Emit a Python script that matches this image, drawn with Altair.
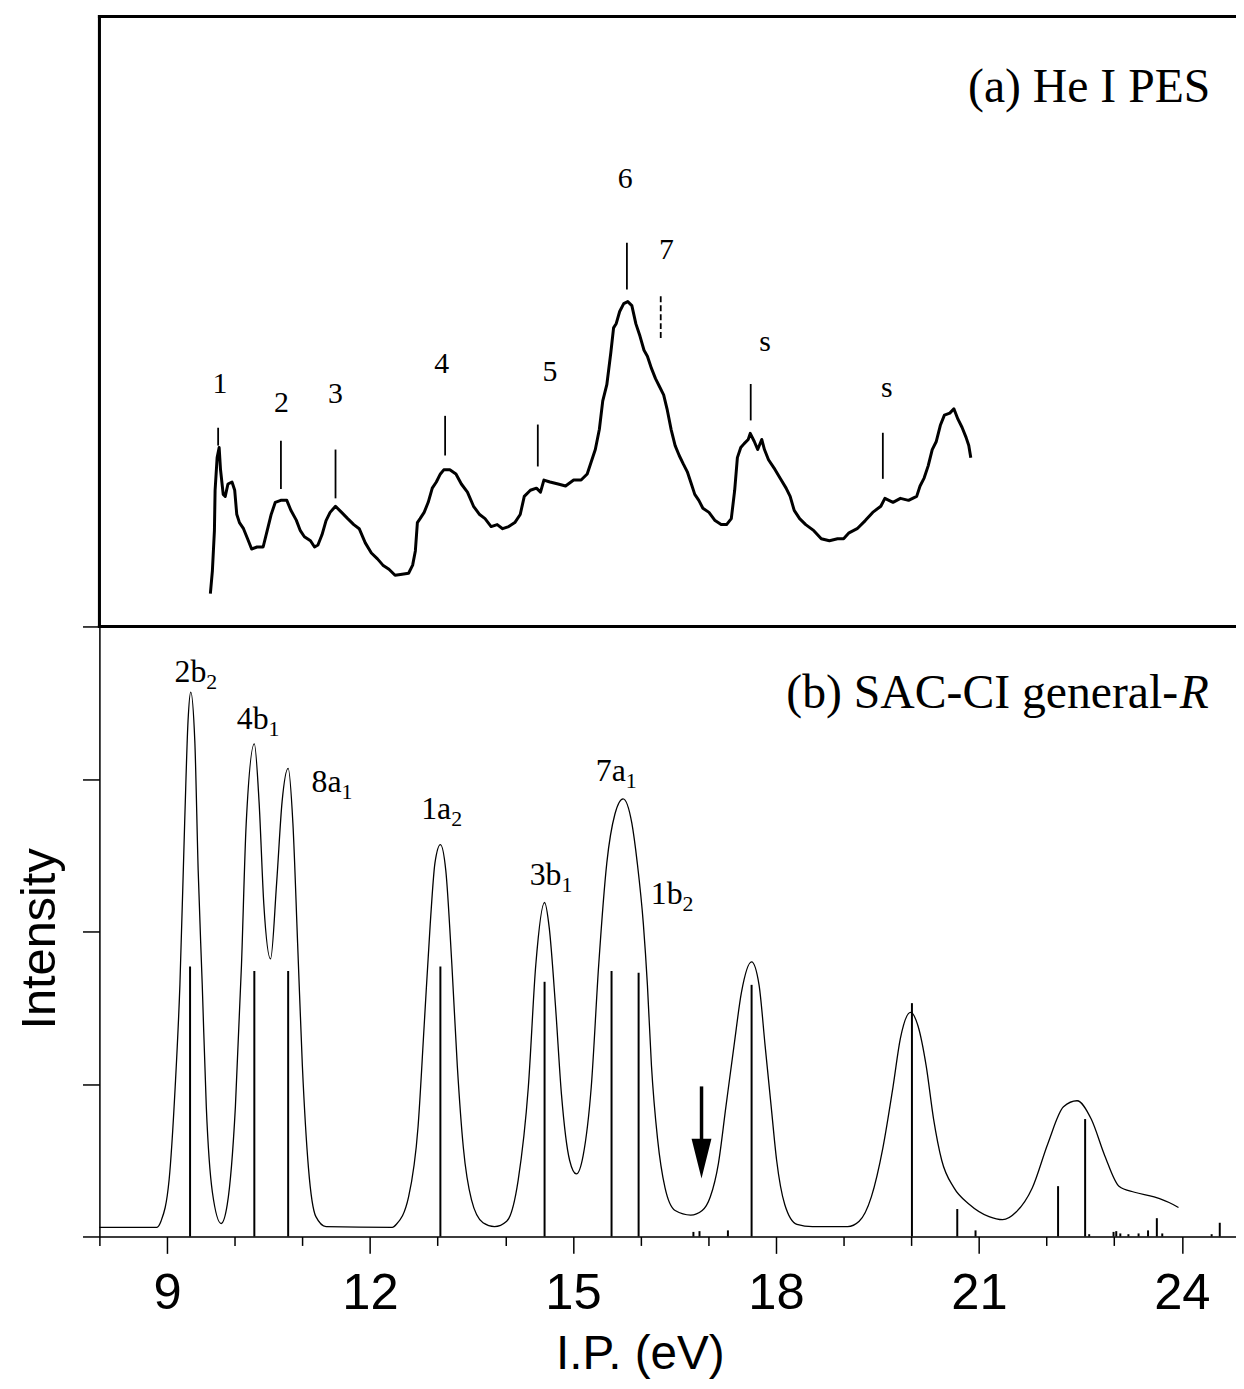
import altair as alt
import pandas as pd

# ---------------- (b) SAC-CI general-R : simulated envelope ----------------
env_ev = [8.00, 8.85, 8.91, 9.03, 9.12, 9.19, 9.26, 9.31, 9.35, 9.41,
          9.46, 9.52, 9.58, 9.67, 9.80, 9.89, 10.01, 10.10, 10.17, 10.29,
          10.36, 10.43, 10.53, 10.62, 10.70, 10.79, 10.86, 10.93, 11.00, 11.09,
          11.20, 11.35, 12.33, 12.39, 12.57, 12.71, 12.80, 12.89, 12.96, 13.04,
          13.12, 13.21, 13.29, 13.38, 13.50, 13.67, 13.84, 14.02, 14.19, 14.34,
          14.45, 14.58, 14.65, 14.74, 14.83, 14.95, 15.05, 15.15, 15.27, 15.38,
          15.50, 15.62, 15.74, 15.87, 15.95, 16.04, 16.10, 16.16, 16.25, 16.36,
          16.51, 16.74, 16.91, 17.03, 17.15, 17.26, 17.38, 17.49, 17.64, 17.75,
          17.84, 17.93, 18.01, 18.13, 18.31, 18.54, 19.06, 19.23, 19.41, 19.58,
          19.73, 19.84, 19.99, 20.10, 20.22, 20.33, 20.45, 20.63, 20.86, 21.15,
          21.35, 21.55, 21.79, 22.02, 22.25, 22.45, 22.66, 22.86, 23.07, 23.30,
          23.59, 23.87, 23.95]
env_int = [0.06, 0.06, 0.10, 0.37, 0.98, 1.65, 2.71, 3.38, 3.57, 3.25,
           2.40, 1.65, 0.85, 0.29, 0.085, 0.21, 0.85, 1.78, 2.71, 3.23,
           2.85, 2.18, 1.82, 2.32, 2.85, 3.07, 2.71, 1.92, 1.12, 0.45,
           0.13, 0.065, 0.06, 0.08, 0.26, 0.72, 1.38, 2.05, 2.45, 2.57,
           2.40, 1.78, 1.12, 0.58, 0.24, 0.09, 0.065, 0.10, 0.37, 0.98,
           1.78, 2.19, 2.02, 1.52, 0.93, 0.50, 0.41, 0.53, 0.98, 1.78,
           2.45, 2.77, 2.87, 2.71, 2.45, 2.05, 1.65, 1.12, 0.64, 0.32,
           0.17, 0.14, 0.17, 0.26, 0.48, 0.85, 1.25, 1.60, 1.80, 1.65,
           1.25, 0.85, 0.50, 0.21, 0.08, 0.065, 0.065, 0.10, 0.26, 0.58,
           0.98, 1.30, 1.47, 1.38, 1.12, 0.77, 0.50, 0.32, 0.21, 0.13,
           0.11, 0.16, 0.32, 0.61, 0.85, 0.89, 0.77, 0.53, 0.33, 0.29,
           0.26, 0.21, 0.19]

# SAC-CI ionization states (sticks)
stick_ev = [9.34, 10.29, 10.79, 13.04, 14.58, 15.57, 15.97, 16.78, 16.87, 17.29,
            17.64, 20.01, 20.68, 20.95, 22.17, 22.57, 22.63, 22.99, 23.03, 23.09,
            23.21, 23.36, 23.50, 23.63, 23.71, 24.44, 24.56]
stick_int = [1.77, 1.74, 1.74, 1.77, 1.67, 1.74, 1.73, 0.03, 0.035, 0.04,
             1.65, 1.53, 0.18, 0.04, 0.33, 0.77, 0.015, 0.03, 0.035, 0.02,
             0.015, 0.02, 0.04, 0.12, 0.02, 0.015, 0.09]

# state labels (junction between main text and subscript, baseline)
state_main = ["2b", "4b", "8a", "1a", "3b", "7a", "1b"]
state_sub = ["2", "1", "1", "2", "1", "1", "2"]
state_ev = [9.58, 10.50, 11.58, 13.20, 14.83, 15.78, 16.62]
state_y = [3.637, 3.329, 2.914, 2.736, 2.302, 2.986, 2.182]

# ---------------- (a) He I PES (intensity relative to panel bottom) ----------------
pes_ev = [9.64, 9.67, 9.70, 9.71, 9.74, 9.77, 9.79, 9.83, 9.86, 9.90,
          9.96, 10.00, 10.03, 10.07, 10.13, 10.19, 10.25, 10.33, 10.42, 10.48,
          10.54, 10.60, 10.68, 10.77, 10.83, 10.91, 10.97, 11.03, 11.12, 11.18,
          11.23, 11.29, 11.35, 11.41, 11.49, 11.58, 11.67, 11.76, 11.84, 11.93,
          12.02, 12.11, 12.19, 12.28, 12.37, 12.45, 12.57, 12.63, 12.67, 12.70,
          12.74, 12.80, 12.86, 12.92, 12.98, 13.04, 13.09, 13.18, 13.27, 13.35,
          13.44, 13.53, 13.62, 13.70, 13.79, 13.88, 13.96, 14.05, 14.14, 14.22,
          14.28, 14.37, 14.46, 14.52, 14.57, 14.66, 14.78, 14.89, 15.01, 15.12,
          15.21, 15.27, 15.33, 15.39, 15.44, 15.50, 15.56, 15.60, 15.64, 15.69,
          15.75, 15.81, 15.87, 15.93, 15.99, 16.05, 16.10, 16.16, 16.22, 16.28,
          16.34, 16.39, 16.45, 16.51, 16.57, 16.63, 16.69, 16.75, 16.80, 16.86,
          16.92, 17.01, 17.10, 17.19, 17.27, 17.34, 17.39, 17.43, 17.48, 17.53,
          17.59, 17.62, 17.68, 17.73, 17.79, 17.83, 17.89, 17.97, 18.06, 18.15,
          18.21, 18.27, 18.35, 18.44, 18.56, 18.67, 18.79, 18.91, 19.00, 19.08,
          19.20, 19.32, 19.43, 19.55, 19.61, 19.73, 19.84, 19.96, 20.08, 20.13,
          20.19, 20.25, 20.31, 20.37, 20.43, 20.49, 20.57, 20.63, 20.69, 20.75,
          20.81, 20.85, 20.88]
pes_int = [0.215, 0.365, 0.628, 0.893, 1.107, 1.173, 1.029, 0.866, 0.853, 0.934,
           0.947, 0.893, 0.736, 0.681, 0.641, 0.575, 0.508, 0.521, 0.521, 0.628,
           0.736, 0.814, 0.827, 0.827, 0.762, 0.697, 0.628, 0.588, 0.562, 0.521,
           0.534, 0.601, 0.694, 0.748, 0.788, 0.748, 0.707, 0.668, 0.641, 0.548,
           0.482, 0.443, 0.402, 0.375, 0.336, 0.341, 0.349, 0.402, 0.495, 0.681,
           0.707, 0.748, 0.814, 0.907, 0.947, 1.000, 1.027, 1.027, 1.000, 0.934,
           0.881, 0.788, 0.734, 0.707, 0.655, 0.668, 0.641, 0.655, 0.681, 0.734,
           0.853, 0.893, 0.907, 0.881, 0.960, 0.947, 0.934, 0.921, 0.960, 0.960,
           1.000, 1.080, 1.160, 1.293, 1.479, 1.585, 1.798, 1.958, 1.987, 2.065,
           2.117, 2.130, 2.104, 1.984, 1.904, 1.811, 1.772, 1.692, 1.625, 1.572,
           1.519, 1.427, 1.293, 1.186, 1.121, 1.066, 1.014, 0.934, 0.866, 0.827,
           0.775, 0.748, 0.694, 0.668, 0.668, 0.707, 0.893, 1.107, 1.173, 1.199,
           1.226, 1.266, 1.213, 1.160, 1.226, 1.160, 1.093, 1.040, 0.973, 0.907,
           0.853, 0.761, 0.707, 0.668, 0.628, 0.575, 0.562, 0.575, 0.575, 0.614,
           0.641, 0.694, 0.748, 0.788, 0.840, 0.814, 0.840, 0.827, 0.853, 0.921,
           0.973, 1.053, 1.160, 1.213, 1.319, 1.386, 1.399, 1.427, 1.359, 1.306,
           1.240, 1.186, 1.107]

# band assignments in the PES
band_labels = ["1", "2", "3", "4", "5", "6", "7", "s", "s"]
band_label_ev = [9.78, 10.69, 11.49, 13.06, 14.66, 15.77, 16.38, 17.84, 19.64]
band_label_y = [1.531, 1.407, 1.466, 1.665, 1.612, 2.875, 2.410, 1.805, 1.505]
band_tick_ev = [9.755, 10.683, 11.490, 13.110, 14.480, 15.797, 16.297, 17.627, 19.580]
band_tick_lo = [1.186, 0.902, 0.840, 1.121, 1.049, 2.210, 1.891, 1.351, 0.968]
band_tick_hi = [1.303, 1.218, 1.160, 1.381, 1.324, 2.516, 2.169, 1.590, 1.270]
band_tick_dashed = [False, False, False, False, False, False, True, False, False]

TOP_BASE = 4.0          # panel (a) occupies intensity 4..8 of the shared axis
X_MIN, X_MAX = 8.0, 24.8

# ---------------- styling ----------------
SERIF = "Liberation Serif, Times New Roman, serif"
SANS = "Liberation Sans, Arial, sans-serif"
NARROW = "Liberation Sans Narrow, Arial Narrow, Liberation Sans, sans-serif"

xscale = alt.Scale(domain=[X_MIN, X_MAX], nice=False, zero=False)
yscale = alt.Scale(domain=[0, 8], nice=False, zero=False)

xaxis = alt.Axis(
    values=list(range(8, 25)),
    title="I.P. (eV)",
    labelExpr="datum.value % 3 == 0 ? datum.label : ''",
    tickSize={"condition": {"test": "datum.value % 3 == 0", "value": 17}, "value": 9},
    labelFont=NARROW, labelFontSize=51, labelPadding=15, labelColor="black",
    labelFlush=False, labelOverlap=False,
    titleFont=SANS, titleFontSize=48, titleFontWeight="normal", titleColor="black",
    titleX=544, titleY=133, titleAlign="center", titleBaseline="alphabetic",
    grid=False, domainColor="black", domainWidth=1.5, tickColor="black", tickWidth=1.5,
)
yaxis = alt.Axis(
    values=[0, 1, 2, 3, 4], labels=False, tickSize=17,
    title="Intensity", titleFont=SANS, titleFontSize=49, titleFontWeight="normal",
    titleColor="black", titleAngle=270, titleX=-45, titleY=928,
    titleAlign="center", titleBaseline="alphabetic",
    grid=False, domainColor="black", domainWidth=1.5, tickColor="black", tickWidth=1.5,
)


def X(f):
    return alt.X(f"{f}:Q", scale=xscale, axis=xaxis)


def Y(f):
    return alt.Y(f"{f}:Q", scale=yscale, axis=yaxis)


env_df = pd.DataFrame({"ev": env_ev, "inten": env_int})
stick_df = pd.DataFrame({"ev": stick_ev, "inten": stick_int})
pes_df = pd.DataFrame({"ev": pes_ev, "inten": pes_int})
state_df = pd.DataFrame({"ev": state_ev, "y": state_y, "main": state_main, "sub": state_sub})
band_lab_df = pd.DataFrame({"ev": band_label_ev, "y": band_label_y, "lab": band_labels})
band_tick_df = pd.DataFrame({"ev": band_tick_ev, "lo": band_tick_lo, "hi": band_tick_hi,
                             "dashed": band_tick_dashed})
frame_df = pd.DataFrame({
    "x1": [X_MIN, X_MIN, X_MIN], "x2": [X_MAX, X_MAX, X_MIN],
    "y1": [8.0, TOP_BASE, TOP_BASE], "y2": [8.0, TOP_BASE, 8.0]})

# envelope
env = alt.Chart(env_df).mark_line(color="black", strokeWidth=1.3, interpolate="monotone").encode(
    x=X("ev"), y=Y("inten"))

# sticks
sticks = alt.Chart(stick_df).transform_calculate(base="0").mark_rule(
    color="black", strokeWidth=2).encode(x=X("ev"), y=Y("inten"), y2="base:Q")

# PES trace
pes = alt.Chart(pes_df).transform_calculate(yy=f"datum.inten + {TOP_BASE}").mark_line(
    color="black", strokeWidth=3, strokeJoin="round").encode(x=X("ev"), y=Y("yy"))

# top panel frame
frame = alt.Chart(frame_df).mark_rule(color="black", strokeWidth=3, strokeCap="square").encode(
    x=X("x1"), x2="x2:Q", y=Y("y1"), y2="y2:Q")

# band ticks
solid_ticks = alt.Chart(band_tick_df).transform_filter("!datum.dashed").transform_calculate(
    a=f"datum.lo + {TOP_BASE}", b=f"datum.hi + {TOP_BASE}").mark_rule(
    color="black", strokeWidth=1.8).encode(x=X("ev"), y=Y("a"), y2="b:Q")
dashed_ticks = alt.Chart(band_tick_df).transform_filter("datum.dashed").transform_calculate(
    a=f"datum.lo + {TOP_BASE}", b=f"datum.hi + {TOP_BASE}").mark_rule(
    color="black", strokeWidth=1.8, strokeDash=[6, 3]).encode(x=X("ev"), y=Y("a"), y2="b:Q")

band_text = alt.Chart(band_lab_df).transform_calculate(yy=f"datum.y + {TOP_BASE}").mark_text(
    font=SERIF, fontSize=30, color="black", align="center", baseline="alphabetic").encode(
    x=X("ev"), y=Y("yy"), text="lab:N")

# state labels with subscripts
state_main_t = alt.Chart(state_df).mark_text(
    font=SERIF, fontSize=32, color="black", align="right", baseline="alphabetic").encode(
    x=X("ev"), y=Y("y"), text="main:N")
state_sub_t = alt.Chart(state_df).mark_text(
    font=SERIF, fontSize=22, color="black", align="left", baseline="alphabetic", dy=7).encode(
    x=X("ev"), y=Y("y"), text="sub:N")

# panel titles
title_a = alt.Chart(pd.DataFrame({"ev": [24.42], "y": [3.44 + TOP_BASE],
                                  "txt": ["(a) He I PES"]})).mark_text(
    font=SERIF, fontSize=48, color="black", align="right", baseline="alphabetic").encode(
    x=X("ev"), y=Y("y"), text="txt:N")
title_b = alt.Chart(pd.DataFrame({"ev": [24.40], "y": [3.466],
                                  "txt": ["(b) SAC-CI general-"]})).mark_text(
    font=SERIF, fontSize=48, color="black", align="right", baseline="alphabetic",
    dx=-31).encode(x=X("ev"), y=Y("y"), text="txt:N")
title_r = alt.Chart(pd.DataFrame({"ev": [24.40], "y": [3.466], "txt": ["R"]})).mark_text(
    font=SERIF, fontSize=48, fontStyle="italic", color="black", align="right",
    baseline="alphabetic").encode(x=X("ev"), y=Y("y"), text="txt:N")

# arrow marking the missing band
arrow_df = pd.DataFrame({"ev": [16.90], "top": [0.984], "base": [0.62], "head": [0.511]})
arrow_shaft = alt.Chart(arrow_df).mark_rule(color="black", strokeWidth=3.5).encode(
    x=X("ev"), y=Y("top"), y2="base:Q")
arrow_head = alt.Chart(arrow_df).mark_point(
    shape="M-1,-2L1,-2L0,2Z", size=400, filled=True, color="black", opacity=1).encode(
    x=X("ev"), y=Y("head"))

chart = alt.layer(
    frame, env, sticks, pes, solid_ticks, dashed_ticks, band_text,
    state_main_t, state_sub_t, title_a, title_b, title_r, arrow_shaft, arrow_head,
).properties(
    width=1144, height=1228,
    autosize=alt.AutoSizeParams(type="none"),
    padding={"left": 92, "top": 4, "right": 0, "bottom": 145},
).configure_view(stroke=None).configure(background="white")

chart.save("out.html", embed_options={"renderer": "svg", "actions": False})
